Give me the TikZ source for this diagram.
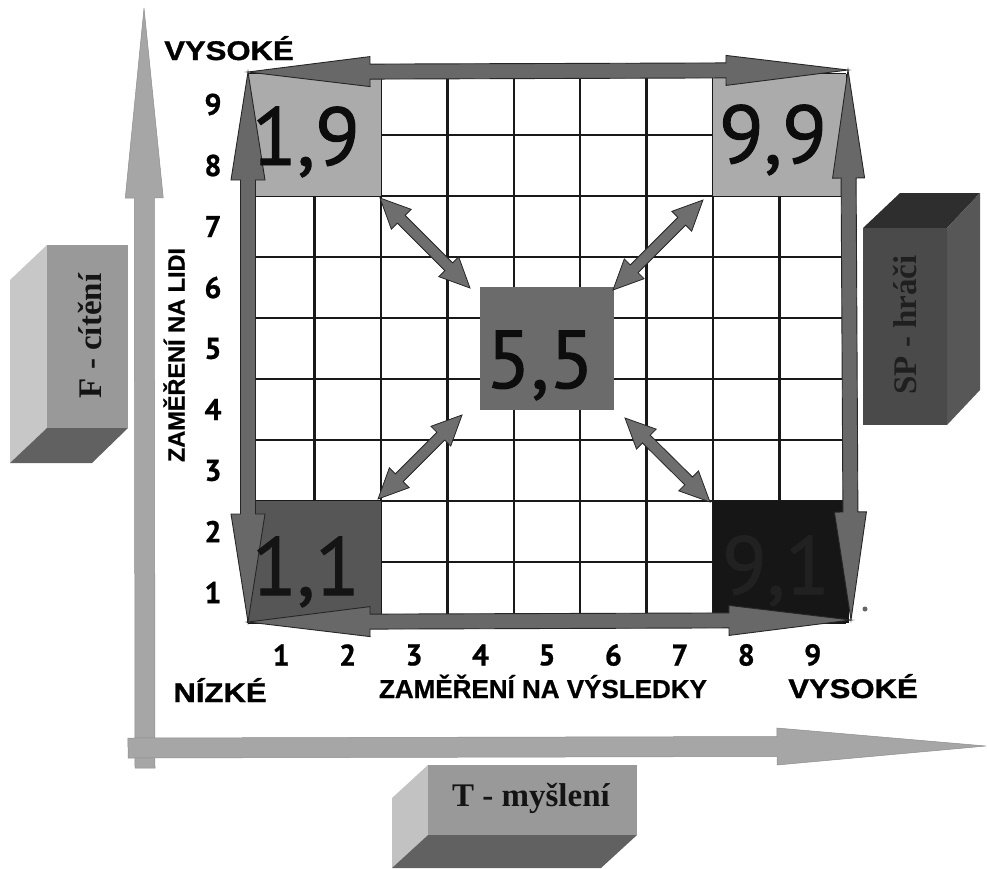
\documentclass[tikz,border=0pt]{standalone}
\usepackage{fontspec}
\setmainfont{Liberation Serif}
\newfontfamily\bignum{PT Sans}[FakeBold=1.2]
\newfontfamily\ticknum{PT Sans}[FakeBold=0.8]
\newfontfamily\capsans{Liberation Sans}[FakeBold=0.8]
\newfontfamily\widesans{Liberation Sans}[FakeStretch=1.15,FakeBold=1.2]
\usetikzlibrary{calc}
\definecolor{frameg}{HTML}{686868}
\definecolor{diagg}{HTML}{6E6E6E}
\definecolor{axisg}{HTML}{A6A6A6}
\definecolor{lightsq}{HTML}{ABABAB}
\definecolor{midsq}{HTML}{6B6B6B}
\definecolor{darksq}{HTML}{565656}
\definecolor{blacksq}{HTML}{161616}
% double-headed block arrow: style, from, to, shaft half width, head half width, head length
\newcommand\dblockarrow[6]{%
  \path let \p1=(#2),\p2=(#3) in \pgfextra{%
    \pgfmathparse{atan2(\y2-\y1,\x2-\x1)}\xdef\BAang{\pgfmathresult}%
    \pgfmathparse{veclen(\x2-\x1,\y2-\y1)}\xdef\BAlen{\pgfmathresult}%
    \xdef\BAx{\x1}\xdef\BAy{\y1}};
  \begin{scope}[shift={(\BAx,\BAy)},rotate=\BAang]
    \filldraw[#1] (0,0) -- (#6,#5) -- (#6,#4) -- ({\BAlen-#6},#4) -- ({\BAlen-#6},#5)
      -- (\BAlen,0) -- ({\BAlen-#6},-#5) -- ({\BAlen-#6},-#4) -- (#6,-#4) -- (#6,-#5) -- cycle;
  \end{scope}}
% single-headed block arrow
\newcommand\sblockarrow[6]{%
  \path let \p1=(#2),\p2=(#3) in \pgfextra{%
    \pgfmathparse{atan2(\y2-\y1,\x2-\x1)}\xdef\BAang{\pgfmathresult}%
    \pgfmathparse{veclen(\x2-\x1,\y2-\y1)}\xdef\BAlen{\pgfmathresult}%
    \xdef\BAx{\x1}\xdef\BAy{\y1}};
  \begin{scope}[shift={(\BAx,\BAy)},rotate=\BAang]
    \filldraw[#1] (0,-#4) -- ({\BAlen-#6},-#4) -- ({\BAlen-#6},-#5) -- (\BAlen,0)
      -- ({\BAlen-#6},#5) -- ({\BAlen-#6},#4) -- (0,#4) -- cycle;
  \end{scope}}
\tikzset{
  framearrow/.style={fill=frameg, draw=black!85, line width=0.9pt, line join=miter},
  diagarrow/.style={fill=diagg, draw=black!85, line width=0.8pt},
  axisarrow/.style={fill=axisg, draw=axisg!85!black, line width=0.5pt},
  gridline/.style={line width=2.4pt, black!90},
  sq/.style={rectangle, draw=none, inner sep=0pt, outer sep=0pt},
  big/.style={font=\bignum\fontsize{82}{82}\selectfont, inner sep=0pt, anchor=base},
  tick/.style={font=\ticknum\bfseries\fontsize{30}{30}\selectfont, inner sep=0pt},
  widelab/.style={font=\widesans\bfseries\fontsize{27}{27}\selectfont, inner sep=0pt, anchor=base},
  titlelab/.style={font=\capsans\bfseries\fontsize{26}{26}\selectfont, inner sep=0pt},
  boxlab/.style={font=\bfseries\fontsize{33}{33}\selectfont, inner sep=0pt},
}
\begin{document}
\begin{tikzpicture}[x=1pt,y=-1pt]
\useasboundingbox (0,0) rectangle (987,868);

% ---- big axes ----
\coordinate (vtail) at (145,768);
\coordinate (vtip) at (144,8);
\coordinate (htail) at (128,748);
\coordinate (htip) at (986,746);
\sblockarrow{axisarrow}{vtail}{vtip}{10}{19}{190}
\sblockarrow{axisarrow}{htail}{htip}{10}{18.5}{209}

% ---- 3D boxes ----
% F - cítění (left)
\fill[fill=black!22] (47,245) -- (10,280) -- (10,463) -- (47,428) -- cycle;
\fill[fill=black!62] (47,428) -- (128,428) -- (92,463) -- (10,463) -- cycle;
\fill[fill=black!40] (47,245) rectangle (128,428);
\node[boxlab, rotate=90, text=black!92] (fbox) at (90,336) {F - cítění};
% SP - hráči (right)
\fill[fill=black!82] (863,228) -- (900,193) -- (980,193) -- (947,228) -- cycle;
\fill[fill=black!66] (947,228) -- (980,193) -- (980,390) -- (947,425) -- cycle;
\fill[fill=black!71] (863,228) rectangle (947,425);
\node[boxlab, rotate=90, text=black!88] (spbox) at (905,325) {SP - hráči};
% T - myšlení (bottom)
\fill[fill=black!24] (428,765) -- (392,798) -- (392,868) -- (428,835) -- cycle;
\fill[fill=black!62] (428,835) -- (637,835) -- (601,868) -- (392,868) -- cycle;
\fill[fill=black!40] (428,765) rectangle (637,835);
\node[boxlab, text=black!92] (tbox) at (531,798) {T - myšlení};

% ---- grid ----
\foreach \i in {0,...,9} {\draw[gridline] ({248+\i*66.444},74) -- ({248+\i*66.444},623);}
\foreach \j in {0,...,9} {\draw[gridline] (248,{74+\j*61}) -- (846,{74+\j*61});}

% ---- coloured squares ----
\node[sq, fill=lightsq, minimum width=133pt, minimum height=122pt] (s19) at (314.4,135) {};
\node[sq, fill=lightsq, minimum width=133pt, minimum height=122pt] (s99) at (779.6,135) {};
\node[sq, fill=darksq,  minimum width=133pt, minimum height=122pt] (s11) at (314.4,562) {};
\node[sq, fill=blacksq, minimum width=136pt, minimum height=122pt] (s91) at (781,562) {};
\node[sq, fill=midsq,   minimum width=134pt, minimum height=123pt] (s55) at (547,348.5) {};

% ---- frame double arrows ----
\coordinate (TL) at (248,72);
\coordinate (TR) at (848,70);
\coordinate (BL) at (248,622);
\coordinate (BR) at (851,620);
\dblockarrow{framearrow}{TL}{TR}{7.5}{15}{122}
\dblockarrow{framearrow}{BL}{BR}{7.5}{15}{122}
\dblockarrow{framearrow}{TL}{BL}{7.5}{17}{108}
\dblockarrow{framearrow}{TR}{BR}{7.5}{16}{108}

% ---- diagonal double arrows ----
\coordinate (d1a) at (380,198); \coordinate (d1b) at (470,288);
\coordinate (d2a) at (613,290); \coordinate (d2b) at (703,200);
\coordinate (d3a) at (462,415); \coordinate (d3b) at (378,499);
\coordinate (d4a) at (625,418); \coordinate (d4b) at (710,502);
\dblockarrow{diagarrow}{d1a}{d1b}{5.5}{14}{30}
\dblockarrow{diagarrow}{d2a}{d2b}{5.5}{14}{30}
\dblockarrow{diagarrow}{d3a}{d3b}{5.5}{14}{30}
\dblockarrow{diagarrow}{d4a}{d4b}{5.5}{14}{30}

% ---- big numbers ----
\node[big, text=black!95] (t19) at (306,165) {1,9};
\node[big, text=black!95] (t99) at (773,163) {9,9};
\node[big, text=black!95] (t55) at (540,388) {5,5};
\node[big, text=black!92] (t11) at (306,595) {1,1};
\node[big, text=black!87] (t91) at (776,594) {9,1};

% ---- tick numbers ----
\foreach \k in {1,...,9} {
  \node[tick] (ly\k) at (213,{592.5-(\k-1)*61}) {\k};
  \node[tick] (lx\k) at ({281.2+(\k-1)*66.444},655) {\k};
}

% ---- axis captions ----
\node[widelab] (vys1) at (229,60) {VYSOKÉ};
\node[widelab] (niz) at (220,702) {NÍZKÉ};
\node[widelab] (vys2) at (853,698) {VYSOKÉ};
\node[titlelab, anchor=base] (zvys) at (543,698) {ZAMĚŘENÍ NA VÝSLEDKY};
\node[titlelab, rotate=90, font=\capsans\bfseries\fontsize{23.5}{23.5}\selectfont] (zlid) at (174,355) {ZAMĚŘENÍ NA LIDI};

% ---- small dot ----
\node[circle, fill=black!60, inner sep=0pt, minimum size=5pt] (dot) at (865,609) {};
\end{tikzpicture}
\end{document}
